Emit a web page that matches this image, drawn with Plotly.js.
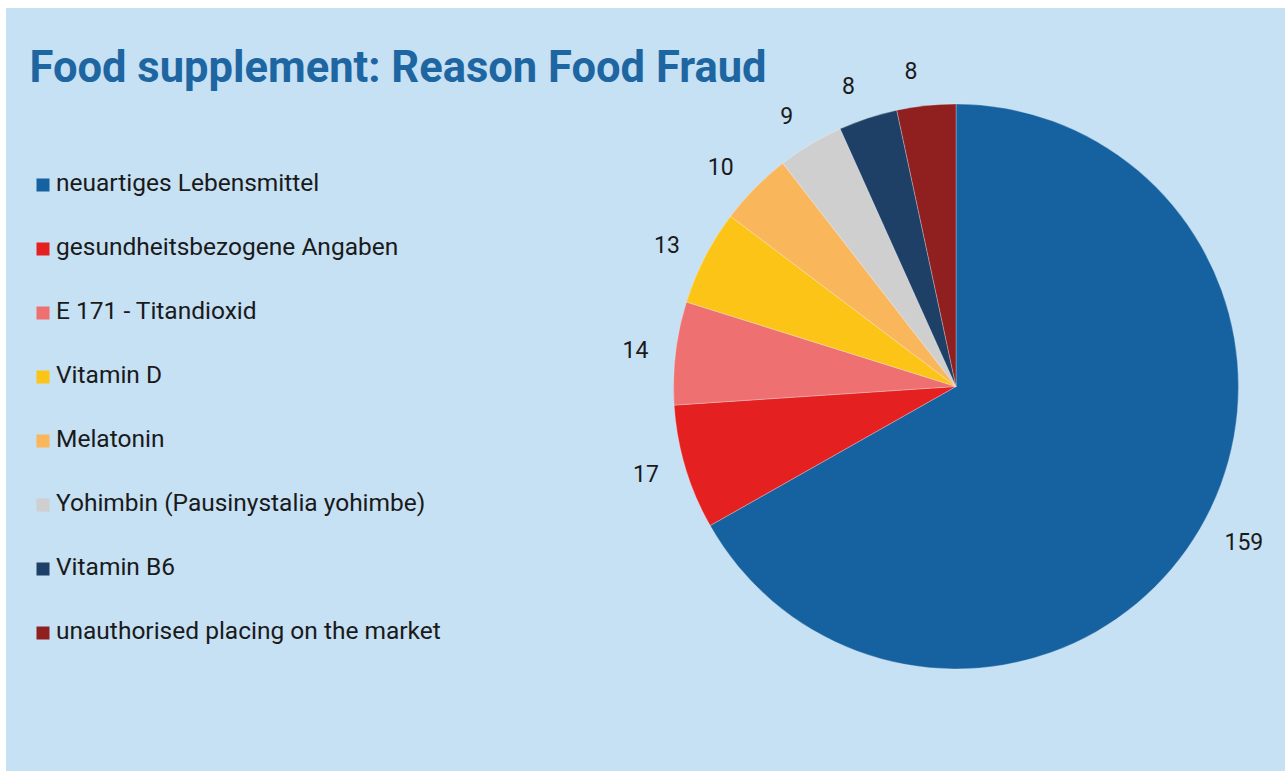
<!DOCTYPE html>
<html>
<head>
<meta charset="utf-8">
<script src="https://cdn.plot.ly/plotly-3.0.1.min.js"></script>
<style>
  html, body { margin: 0; padding: 0; background: #ffffff; }
  #chart { position: absolute; left: 6px; top: 8px; width: 1279px; height: 763px; }
</style>
</head>
<body>
<div id="chart"></div>
<script>
// ---- data ----
const categories = [
  "neuartiges Lebensmittel",
  "gesundheitsbezogene Angaben",
  "E 171 - Titandioxid",
  "Vitamin D",
  "Melatonin",
  "Yohimbin (Pausinystalia yohimbe)",
  "Vitamin B6",
  "unauthorised placing on the market"
];
const counts = [159, 17, 14, 13, 10, 9, 8, 8];
const sliceColors = ["#1662A0", "#E52020", "#EE7070", "#FCC417", "#FAB65A", "#CFCFCF", "#1F4066", "#902020"];
const chartTitle = "Food supplement: Reason Food Fraud";

// ---- layout geometry (pixels inside the plot div) ----
const W = 1279, H = 763;
const cx = 950, cyTop = 378.5, R = 282.5, Rlab = 303;
function dom(r) {
  const cyB = H - cyTop;
  return { x: [(cx - r) / W, (cx + r) / W], y: [(cyB - r) / H, (cyB + r) / H] };
}
const legendRow0 = 177, legendStep = 64;
const idx = categories.map((_, i) => i);

const pie = {
  type: "pie",
  labels: categories,
  values: counts,
  sort: false,
  direction: "clockwise",
  rotation: 0,
  domain: dom(R),
  marker: { colors: sliceColors, line: { color: "rgba(255,255,255,0.45)", width: 0.6 } },
  textinfo: "none",
  hoverinfo: "label+value",
  showlegend: false
};
// value labels: split over two transparent overlay pies so neighbouring labels are not pushed apart
function labelPie(parity) {
  return {
    type: "pie",
    labels: categories,
    values: counts,
    sort: false,
    direction: "clockwise",
    rotation: 0,
    domain: dom(Rlab),
    marker: { colors: categories.map(() => "rgba(0,0,0,0)"), line: { width: 0 } },
    textinfo: "value",
    textposition: idx.map(i => (i % 2 === parity ? "outside" : "none")),
    outsidetextfont: { family: "Roboto, sans-serif", size: 23, color: "#1a1a1a" },
    hoverinfo: "skip",
    showlegend: false
  };
}
const legendMarks = {
  type: "scatter",
  mode: "markers",
  x: idx.map(() => 37),
  y: idx,
  marker: { symbol: "square", size: 13, color: sliceColors, line: { width: 0 } },
  hoverinfo: "skip",
  showlegend: false,
  cliponaxis: false
};
const legendText = {
  type: "scatter",
  mode: "text",
  x: idx.map(() => 50),
  y: idx,
  text: categories,
  textposition: "middle right",
  textfont: { family: "Roboto, sans-serif", size: 24.5, color: "#1a1a1a" },
  hoverinfo: "skip",
  showlegend: false,
  cliponaxis: false
};

const layout = {
  width: W, height: H,
  margin: { l: 0, r: 0, t: 0, b: 0 },
  paper_bgcolor: "rgb(198,224,244)",
  plot_bgcolor: "rgba(0,0,0,0)",
  title: {
    text: chartTitle,
    font: { family: "Roboto, sans-serif", size: 43.5, color: "#1E66A1", weight: "bold" },
    x: 23.5 / W, xref: "paper", xanchor: "left",
    y: 1 - 59 / H, yref: "container", yanchor: "middle"
  },
  xaxis: { domain: [0, 0.5], range: [0, 0.5 * W], visible: false, fixedrange: true },
  yaxis: { domain: [0, 1], range: [(H - legendRow0) / legendStep, -legendRow0 / legendStep], visible: false, fixedrange: true },
  showlegend: false
};

Plotly.newPlot("chart", [legendMarks, legendText, pie, labelPie(0), labelPie(1)], layout, { displayModeBar: false });
</script>
</body>
</html>
